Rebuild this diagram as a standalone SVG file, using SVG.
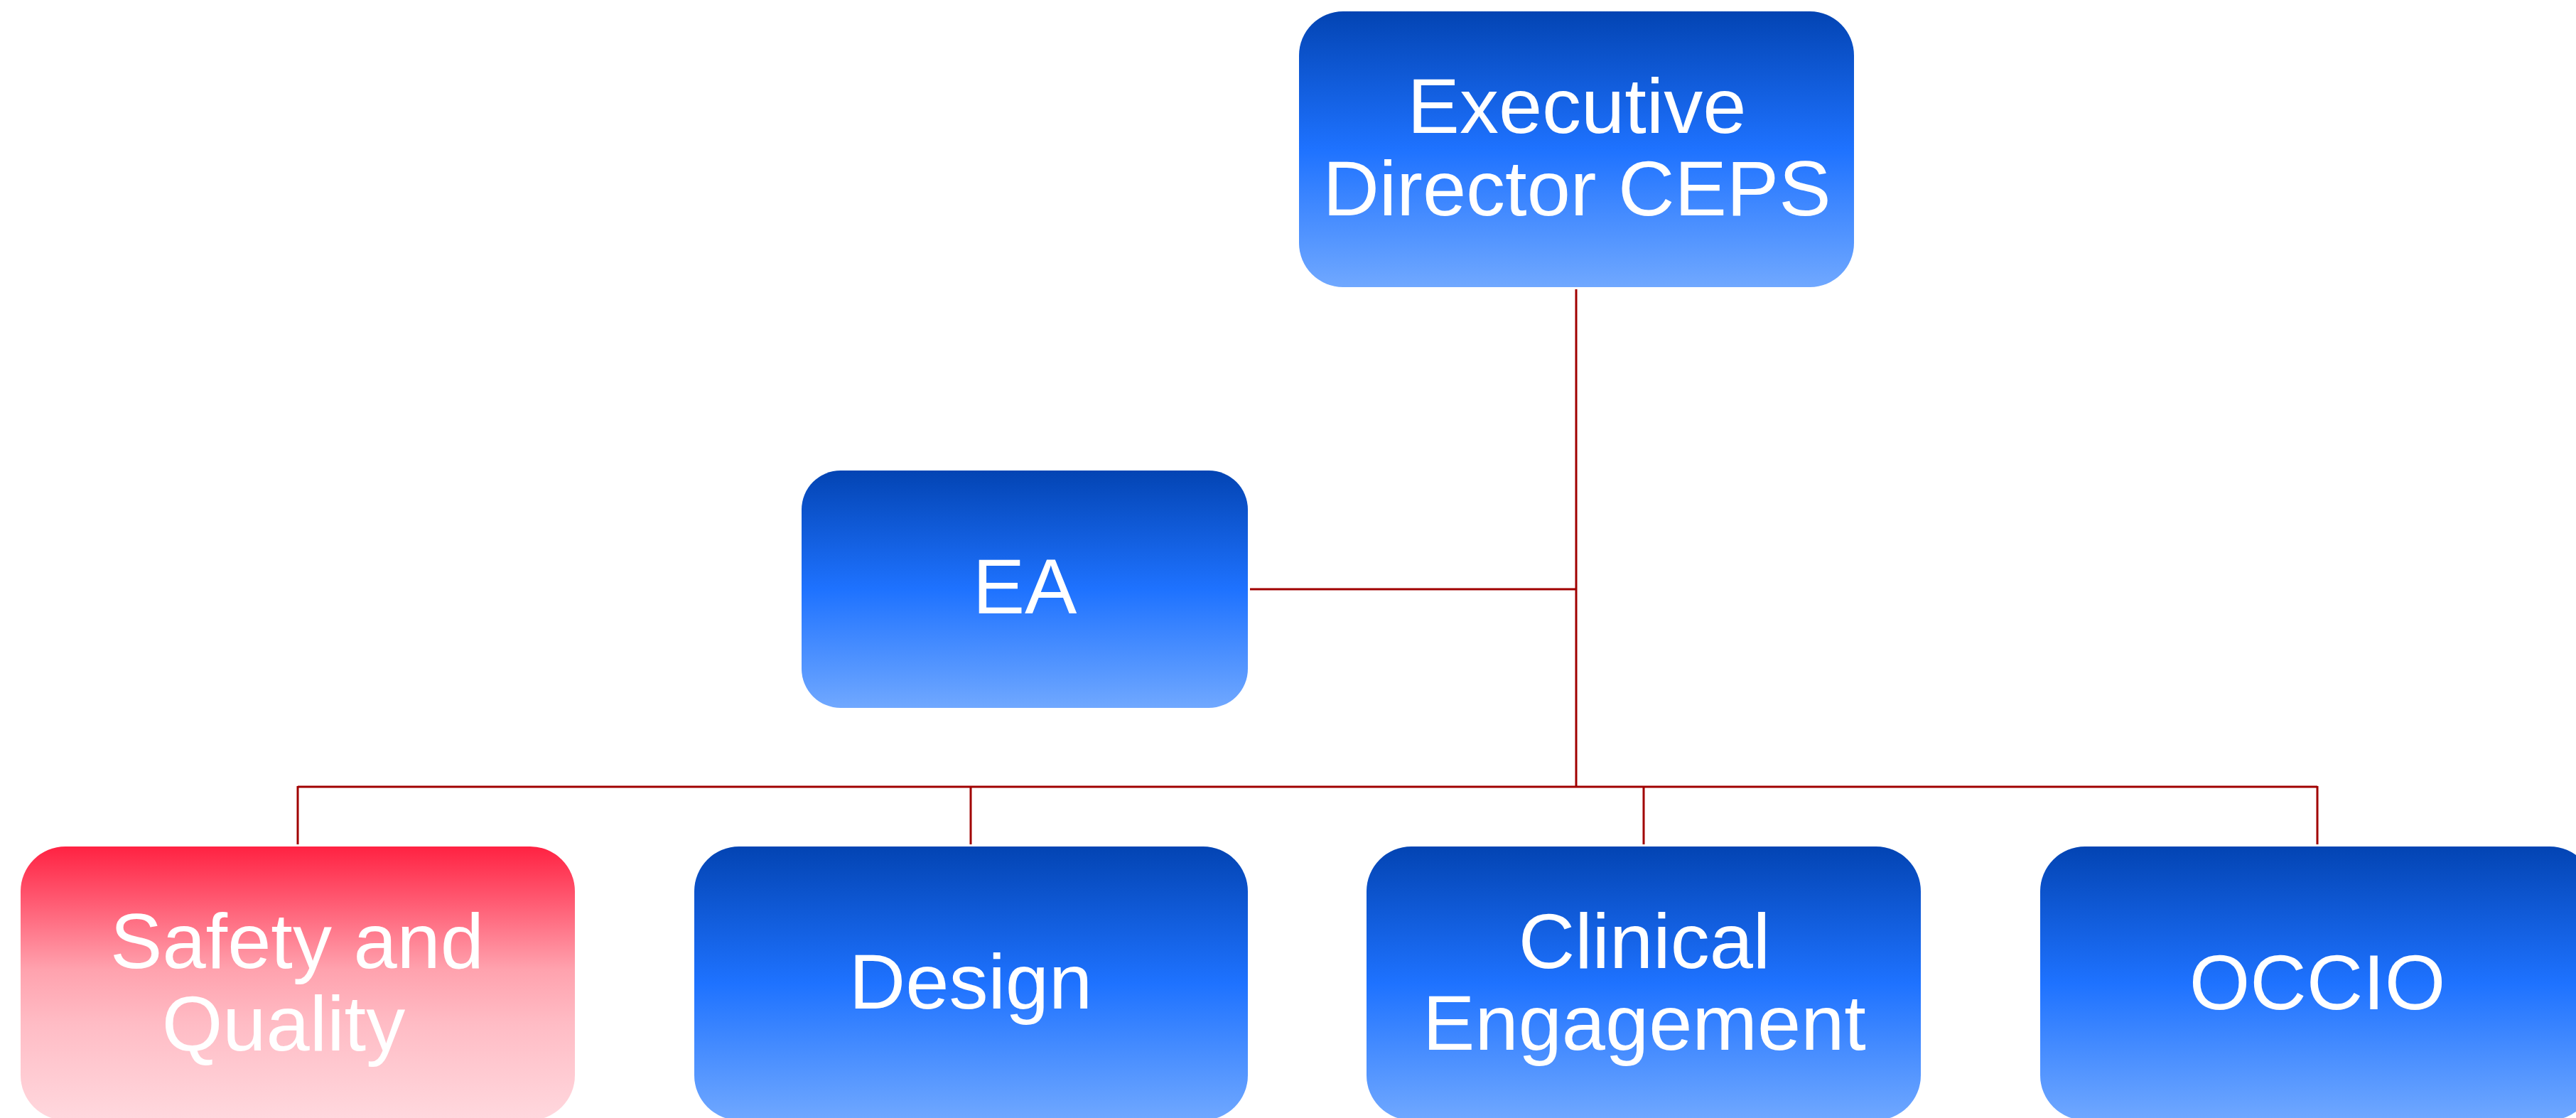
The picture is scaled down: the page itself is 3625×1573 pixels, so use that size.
<svg xmlns="http://www.w3.org/2000/svg" width="3625" height="1573" viewBox="0 0 3625 1573">
  <defs>
    <linearGradient id="blueFill" x1="0" y1="0" x2="0" y2="1">
      <stop offset="0" stop-color="#0344B3"/>
      <stop offset="0.5" stop-color="#1E72FF"/>
      <stop offset="1" stop-color="#70A8FF"/>
    </linearGradient>
    <linearGradient id="redFill" x1="0" y1="0" x2="0" y2="1">
      <stop offset="0" stop-color="#FF2242"/>
      <stop offset="0.2" stop-color="#FF5A72"/>
      <stop offset="0.45" stop-color="#FFA2AE"/>
      <stop offset="0.65" stop-color="#FFBCC5"/>
      <stop offset="1" stop-color="#FFD8DE"/>
    </linearGradient>
    <style>
      .box-blue { fill: url(#blueFill); }
      .box-red { fill: url(#redFill); }
      .label { font-family: "Liberation Sans", Arial, sans-serif; font-size: 110px; fill: #FFFFFF; text-anchor: middle; }
      .link { stroke: #A00000; stroke-width: 3; fill: none; }
    </style>
  </defs>

  <!-- reporting lines -->
  <g id="connectors">
    <line class="link" x1="2218" y1="407" x2="2218" y2="1107"/>
    <line class="link" x1="1759" y1="829" x2="2218" y2="829"/>
    <line class="link" x1="419" y1="1107" x2="3261" y2="1107"/>
    <line class="link" x1="419" y1="1106" x2="419" y2="1188"/>
    <line class="link" x1="1366" y1="1106" x2="1366" y2="1188"/>
    <line class="link" x1="2313" y1="1106" x2="2313" y2="1188"/>
    <line class="link" x1="3261" y1="1106" x2="3261" y2="1188"/>
  </g>

  <g id="node-executive-director">
    <rect class="box-blue" x="1828" y="16" width="781" height="388" rx="62" ry="62"/>
    <text class="label" x="2219" y="187">Executive</text>
    <text class="label" x="2219" y="303">Director CEPS</text>
  </g>

  <g id="node-ea">
    <rect class="box-blue" x="1128" y="662" width="628" height="334" rx="55" ry="55"/>
    <text class="label" x="1442" y="863">EA</text>
  </g>

  <g id="node-safety-quality">
    <rect class="box-red" x="29" y="1191" width="780" height="385" rx="63" ry="63"/>
    <text class="label" x="418" y="1362">Safety and</text>
    <text class="label" x="399" y="1478">Quality</text>
  </g>

  <g id="node-design">
    <rect class="box-blue" x="977" y="1191" width="779" height="385" rx="63" ry="63"/>
    <text class="label" x="1366" y="1419">Design</text>
  </g>

  <g id="node-clinical-engagement">
    <rect class="box-blue" x="1923" y="1191" width="780" height="385" rx="63" ry="63"/>
    <text class="label" x="2314" y="1362">Clinical</text>
    <text class="label" x="2314" y="1477">Engagement</text>
  </g>

  <g id="node-occio">
    <rect class="box-blue" x="2871" y="1191" width="780" height="385" rx="63" ry="63"/>
    <text class="label" x="3261" y="1420">OCCIO</text>
  </g>
</svg>
